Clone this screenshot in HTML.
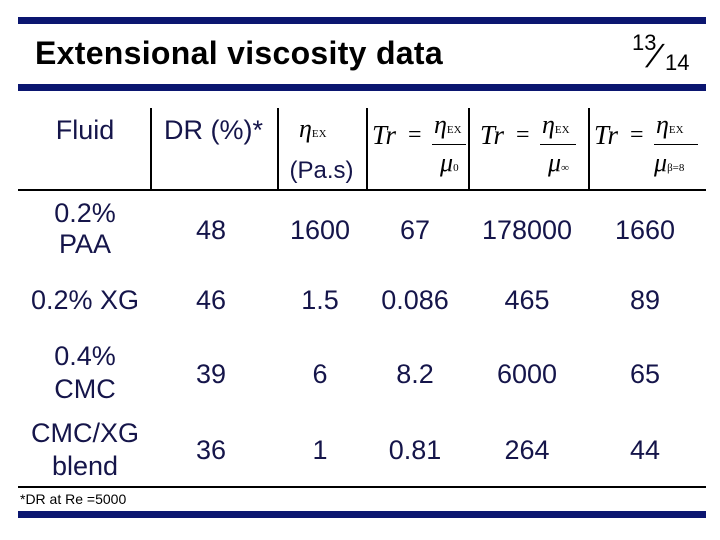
<!DOCTYPE html>
<html><head><meta charset="utf-8"><style>
body{margin:0;width:720px;height:540px;background:#fff;position:relative;overflow:hidden;font-family:"Liberation Sans",Arial,sans-serif;}
.a{position:absolute;}
.bar{position:absolute;left:18px;width:688px;height:7px;background:#0b1670;}
.t{position:absolute;color:#15154a;font-size:27px;text-align:center;line-height:33px;white-space:nowrap;}
.v{position:absolute;width:2px;background:#000;top:108px;height:81px;}
.m{font-family:"Liberation Serif",serif;font-style:italic;position:absolute;color:#000;}
.s{font-family:"Liberation Serif",serif;font-style:normal;font-size:11px;}
.fl{position:absolute;height:1px;background:#000;}
</style></head><body>
<div class="bar" style="top:17px"></div>
<div class="a" style="left:35px;top:35px;font-size:32px;letter-spacing:0.3px;font-weight:bold;color:#000;">Extensional viscosity data</div>
<div class="a" style="left:632px;top:30px;font-size:22px;color:#000;width:70px;height:46px;">
<span style="position:absolute;left:0;top:0">13</span><span style="position:absolute;left:18px;top:8px;font-size:32px;transform:skewX(-25deg);font-weight:100">/</span><span style="position:absolute;left:33px;top:20px">14</span></div>
<div class="bar" style="top:84px"></div>

<div class="v" style="left:150px"></div>
<div class="v" style="left:277px"></div>
<div class="v" style="left:366px"></div>
<div class="v" style="left:468px"></div>
<div class="v" style="left:588px"></div>
<div class="a" style="left:18px;top:189px;width:688px;height:2px;background:#000"></div>

<div class="t" style="left:20px;width:130px;top:114px">Fluid</div>
<div class="t" style="left:150px;width:127px;top:114px">DR (%)*</div>
<div class="a" style="left:277px;width:89px;top:108px;height:80px">
<div class="m" style="left:22px;top:6px;font-size:26px">η<span class="s">EX</span></div>
<div class="t" style="left:0;width:89px;top:46px;font-size:24px">(Pa.s)</div></div>

<div class="a" style="left:368px;top:108px;width:100px;height:80px">
<div class="m" style="left:4px;top:12px;font-size:27px">Tr</div><div class="m" style="left:40px;top:14px;font-size:24px;font-style:normal">=</div>
<div class="m" style="left:66px;top:2px;font-size:26px">η<span class="s">EX</span></div>
<div class="fl" style="left:64px;top:36px;width:34px"></div>
<div class="m" style="left:72px;top:40px;font-size:26px">μ<span class="s">0</span></div></div>

<div class="a" style="left:470px;top:108px;width:118px;height:80px">
<div class="m" style="left:10px;top:12px;font-size:27px">Tr</div><div class="m" style="left:46px;top:14px;font-size:24px;font-style:normal">=</div>
<div class="m" style="left:72px;top:2px;font-size:26px">η<span class="s">EX</span></div>
<div class="fl" style="left:70px;top:36px;width:36px"></div>
<div class="m" style="left:78px;top:40px;font-size:26px">μ<span class="s">∞</span></div></div>

<div class="a" style="left:590px;top:108px;width:116px;height:80px">
<div class="m" style="left:4px;top:12px;font-size:27px">Tr</div><div class="m" style="left:40px;top:14px;font-size:24px;font-style:normal">=</div>
<div class="m" style="left:66px;top:2px;font-size:26px">η<span class="s">EX</span></div>
<div class="fl" style="left:64px;top:36px;width:44px"></div>
<div class="m" style="left:64px;top:40px;font-size:26px">μ<span class="s">β=8</span></div></div>

<div class="t" style="left:20px;width:130px;top:198px;line-height:31px">0.2%<br>PAA</div>
<div class="t" style="left:20px;width:130px;top:284px">0.2% XG</div>
<div class="t" style="left:20px;width:130px;top:340px;line-height:33px">0.4%<br>CMC</div>
<div class="t" style="left:20px;width:130px;top:417px;line-height:33px">CMC/XG<br>blend</div>

<div id="vals"></div>
<div class="a" style="left:18px;top:486px;width:688px;height:2px;background:#000"></div>
<div class="a" style="left:20px;top:491px;font-size:14px;color:#000">*DR at Re =5000</div>
<div class="bar" style="top:511px"></div>
<script>
const rows=[["48","1600","67","178000","1660"],["46","1.5","0.086","465","89"],["39","6","8.2","6000","65"],["36","1","0.81","264","44"]];
const rowY=[214,284,358,434];
const colX=[211,320,415,527,645];
const host=document.getElementById('vals');
rows.forEach((r,i)=>r.forEach((v,j)=>{
const d=document.createElement('div');
d.className='t';


d.style.left=(colX[j]-60)+'px';d.style.width='120px';d.style.top=rowY[i]+'px';
d.textContent=v;host.appendChild(d);}));
</script>
</body></html>
